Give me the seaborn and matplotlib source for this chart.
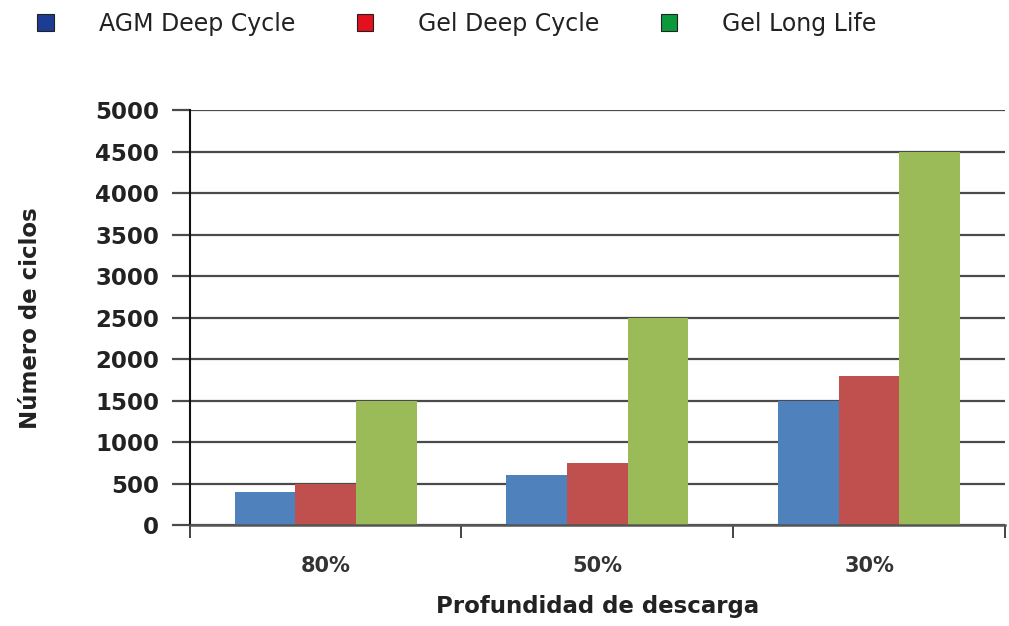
import pandas as pd
import matplotlib.pyplot as plt
import seaborn as sns
from matplotlib.patches import Patch

# data
depths = ['80%', '50%', '30%']
agm_deep = [400, 600, 1500]
gel_deep = [500, 750, 1800]
gel_long = [1500, 2500, 4500]
series = ['AGM Deep Cycle', 'Gel Deep Cycle', 'Gel Long Life']

bar_colors = ['#4F81BD', '#C0504D', '#9BBB59']
legend_colors = ['#1F3C94', '#E3101E', '#0A9A3C']

df = pd.DataFrame({
    'depth': depths * 3,
    'cycles': agm_deep + gel_deep + gel_long,
    'type': [s for s in series for _ in depths],
})

sns.set_style('white')
plt.rcParams['font.family'] = ['DejaVu Sans']

fig = plt.figure(figsize=(10.09, 6.26), dpi=100)
ax = fig.add_axes([0.188, 0.161, 0.808, 0.663])

sns.barplot(data=df, x='depth', y='cycles', hue='type', order=depths,
            hue_order=series, palette=bar_colors, width=0.67, gap=0,
            saturation=1, legend=False, ax=ax)
for p in ax.patches:
    p.set_edgecolor('none')

ax.set_xlim(-0.5, 2.5)
ax.set_ylim(0, 5000)
ax.set_yticks(range(0, 5001, 500))
ax.yaxis.grid(True, color='#4a4a4a', linewidth=1.6)
ax.set_axisbelow(True)

# ticks on category boundaries, labels in the middle
ax.set_xticks([-0.5, 0.5, 1.5, 2.5], minor=False)
ax.set_xticklabels([])
ax.set_xticks([0, 1, 2], minor=True)
ax.set_xticklabels(depths, minor=True, fontsize=15, fontweight='bold', color='#333333')
ax.tick_params(axis='x', which='major', bottom=True, direction='out', length=9,
               width=1.2, color='#222222')
ax.tick_params(axis='x', which='minor', bottom=True, length=0, pad=22)
ax.tick_params(axis='y', left=True, direction='out', length=13, width=1.6,
               color='#4a4a4a', labelsize=16.5, pad=9, labelcolor='#222222')
for t in ax.get_yticklabels():
    t.set_fontweight('bold')

for s in ['top', 'right']:
    ax.spines[s].set_visible(False)
ax.spines['left'].set_color('#111111')
ax.spines['left'].set_linewidth(1.5)
ax.spines['bottom'].set_color('#555555')
ax.spines['bottom'].set_linewidth(1.8)

ax.set_xlabel('Profundidad de descarga', fontsize=16.5, fontweight='bold',
              color='#222222', labelpad=14)
ax.set_ylabel('Número de ciclos', fontsize=16.5, fontweight='bold',
              color='#222222', labelpad=38)

handles = [Patch(facecolor=c, edgecolor='#222222', linewidth=0.8) for c in legend_colors]
fig.legend(handles, series, loc='upper left', bbox_to_anchor=(0.016, 1.015), ncol=3,
           frameon=False, fontsize=17, handlelength=0.7, handleheight=0.7,
           handletextpad=1.9, columnspacing=2.6, labelcolor='#222222')

fig.savefig('out.png', dpi=100)
